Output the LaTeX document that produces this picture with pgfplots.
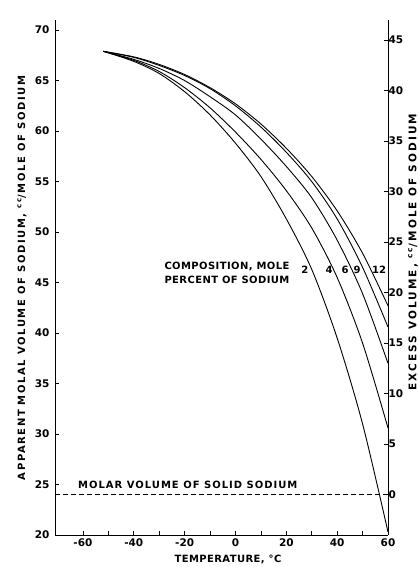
\documentclass[border=0pt]{standalone}
\usepackage{fontspec}
\setmainfont{DejaVu Sans}
\usepackage{pgfplots}
\pgfplotsset{compat=1.18}

\begin{document}
\begin{tikzpicture}[font=\bfseries]
\path[use as bounding box] (-55pt,-32pt) rectangle (363pt,535pt);

\begin{axis}[
    scale only axis,
    width=333pt, height=515pt,
    xmin=-71, xmax=60,
    ymin=20, ymax=71,
    axis x line*=bottom,
    axis y line*=left,
    axis line style={line width=0.8pt, -},
    tick align=inside,
    major tick length=4pt,
    minor tick length=4pt,
    xtick={-60,-40,...,60},
    minor xtick={-50,-30,...,50},
    ytick={20,25,...,70},
    tick style={line width=0.7pt, black},
    /pgf/number format/assume math mode=true,
    ticklabel style={font=\bfseries\fontsize{10.5}{12}\selectfont},
    xticklabel style={yshift=0pt},
    yticklabel style={xshift=-2pt},
    clip=false,
]
\addplot[black, line width=0.9pt, smooth] coordinates {
  (-52,67.9) (-40,66.9) (-30,65.7) (-20,63.9) (-10,61.6) (0,58.8)
  (10,55.5) (20,51.3) (30,46.3) (40,39.5) (50,31.0) (60,20.3)
};
\addplot[black, line width=0.9pt, smooth] coordinates {
  (-52,67.9) (-40,67.0) (-30,65.9) (-20,64.3) (-10,62.3) (0,59.9)
  (10,57.2) (20,54.1) (30,50.4) (40,45.5) (50,39.0) (60,30.6)
};
\addplot[black, line width=0.9pt, smooth] coordinates {
  (-52,67.9) (-40,67.1) (-30,66.2) (-20,65.0) (-10,63.4) (0,61.6)
  (10,59.2) (20,56.5) (30,53.4) (40,49.2) (50,43.9) (60,37.0)
};
\addplot[black, line width=0.9pt, smooth] coordinates {
  (-52,67.9) (-40,67.3) (-30,66.5) (-20,65.5) (-10,64.2) (0,62.5)
  (10,60.4) (20,57.9) (30,55.0) (40,51.3) (50,46.5) (60,40.6)
};
\addplot[black, line width=0.9pt, smooth] coordinates {
  (-52,67.9) (-40,67.35) (-30,66.6) (-20,65.6) (-10,64.3) (0,62.7)
  (10,60.7) (20,58.3) (30,55.5) (40,52.1) (50,47.9) (60,42.7)
};
% molar volume of solid sodium
\addplot[black, line width=0.8pt, dash pattern=on 5pt off 3pt] coordinates {(-71,24.0) (60,24.0)};

\node[anchor=south west, inner sep=0pt, font=\bfseries\fontsize{10}{12}\selectfont\addfontfeature{LetterSpace=10}] at (axis cs:-62,24.6) {MOLAR VOLUME OF SOLID SODIUM};
\node[anchor=west, align=left, inner sep=0pt, font=\bfseries\fontsize{10}{14}\selectfont\addfontfeature{LetterSpace=4}] at (axis cs:-28,46.0) {COMPOSITION, MOLE\\PERCENT OF SODIUM};
\node[font=\bfseries\fontsize{10}{12}\selectfont] at (axis cs:27.3,46.3) {2};
\node[font=\bfseries\fontsize{10}{12}\selectfont] at (axis cs:36.8,46.3) {4};
\node[font=\bfseries\fontsize{10}{12}\selectfont] at (axis cs:43.1,46.3) {6};
\node[font=\bfseries\fontsize{10}{12}\selectfont] at (axis cs:47.8,46.3) {9};
\node[font=\bfseries\fontsize{10}{12}\selectfont] at (axis cs:56.5,46.3) {12};
\end{axis}

\begin{axis}[
    scale only axis,
    width=333pt, height=515pt,
    xmin=-71, xmax=60,
    ymin=-4, ymax=47,
    axis x line=none,
    axis y line*=right,
    axis line style={line width=0.8pt, -},
    tick align=inside,
    major tick length=4pt,
    ytick={0,5,...,45},
    tick style={line width=0.7pt, black},
    /pgf/number format/assume math mode=true,
    ticklabel style={font=\bfseries\fontsize{10.5}{12}\selectfont},
    yticklabel style={xshift=-3pt},
]
\end{axis}

\node[font=\bfseries\fontsize{10}{12}\selectfont\addfontfeature{LetterSpace=4}] at (173pt,-24pt) {TEMPERATURE, °C};
\node[rotate=90, font=\bfseries\fontsize{10}{12}\selectfont\addfontfeature{LetterSpace=16}] at (-33pt,257pt) {APPARENT MOLAL VOLUME OF SODIUM, \textsuperscript{cc}/MOLE OF SODIUM};
\node[rotate=90, font=\bfseries\fontsize{10.5}{12}\selectfont\addfontfeature{LetterSpace=20}] at (358pt,283pt) {EXCESS VOLUME, \textsuperscript{cc}/MOLE OF SODIUM};
\end{tikzpicture}
\end{document}
